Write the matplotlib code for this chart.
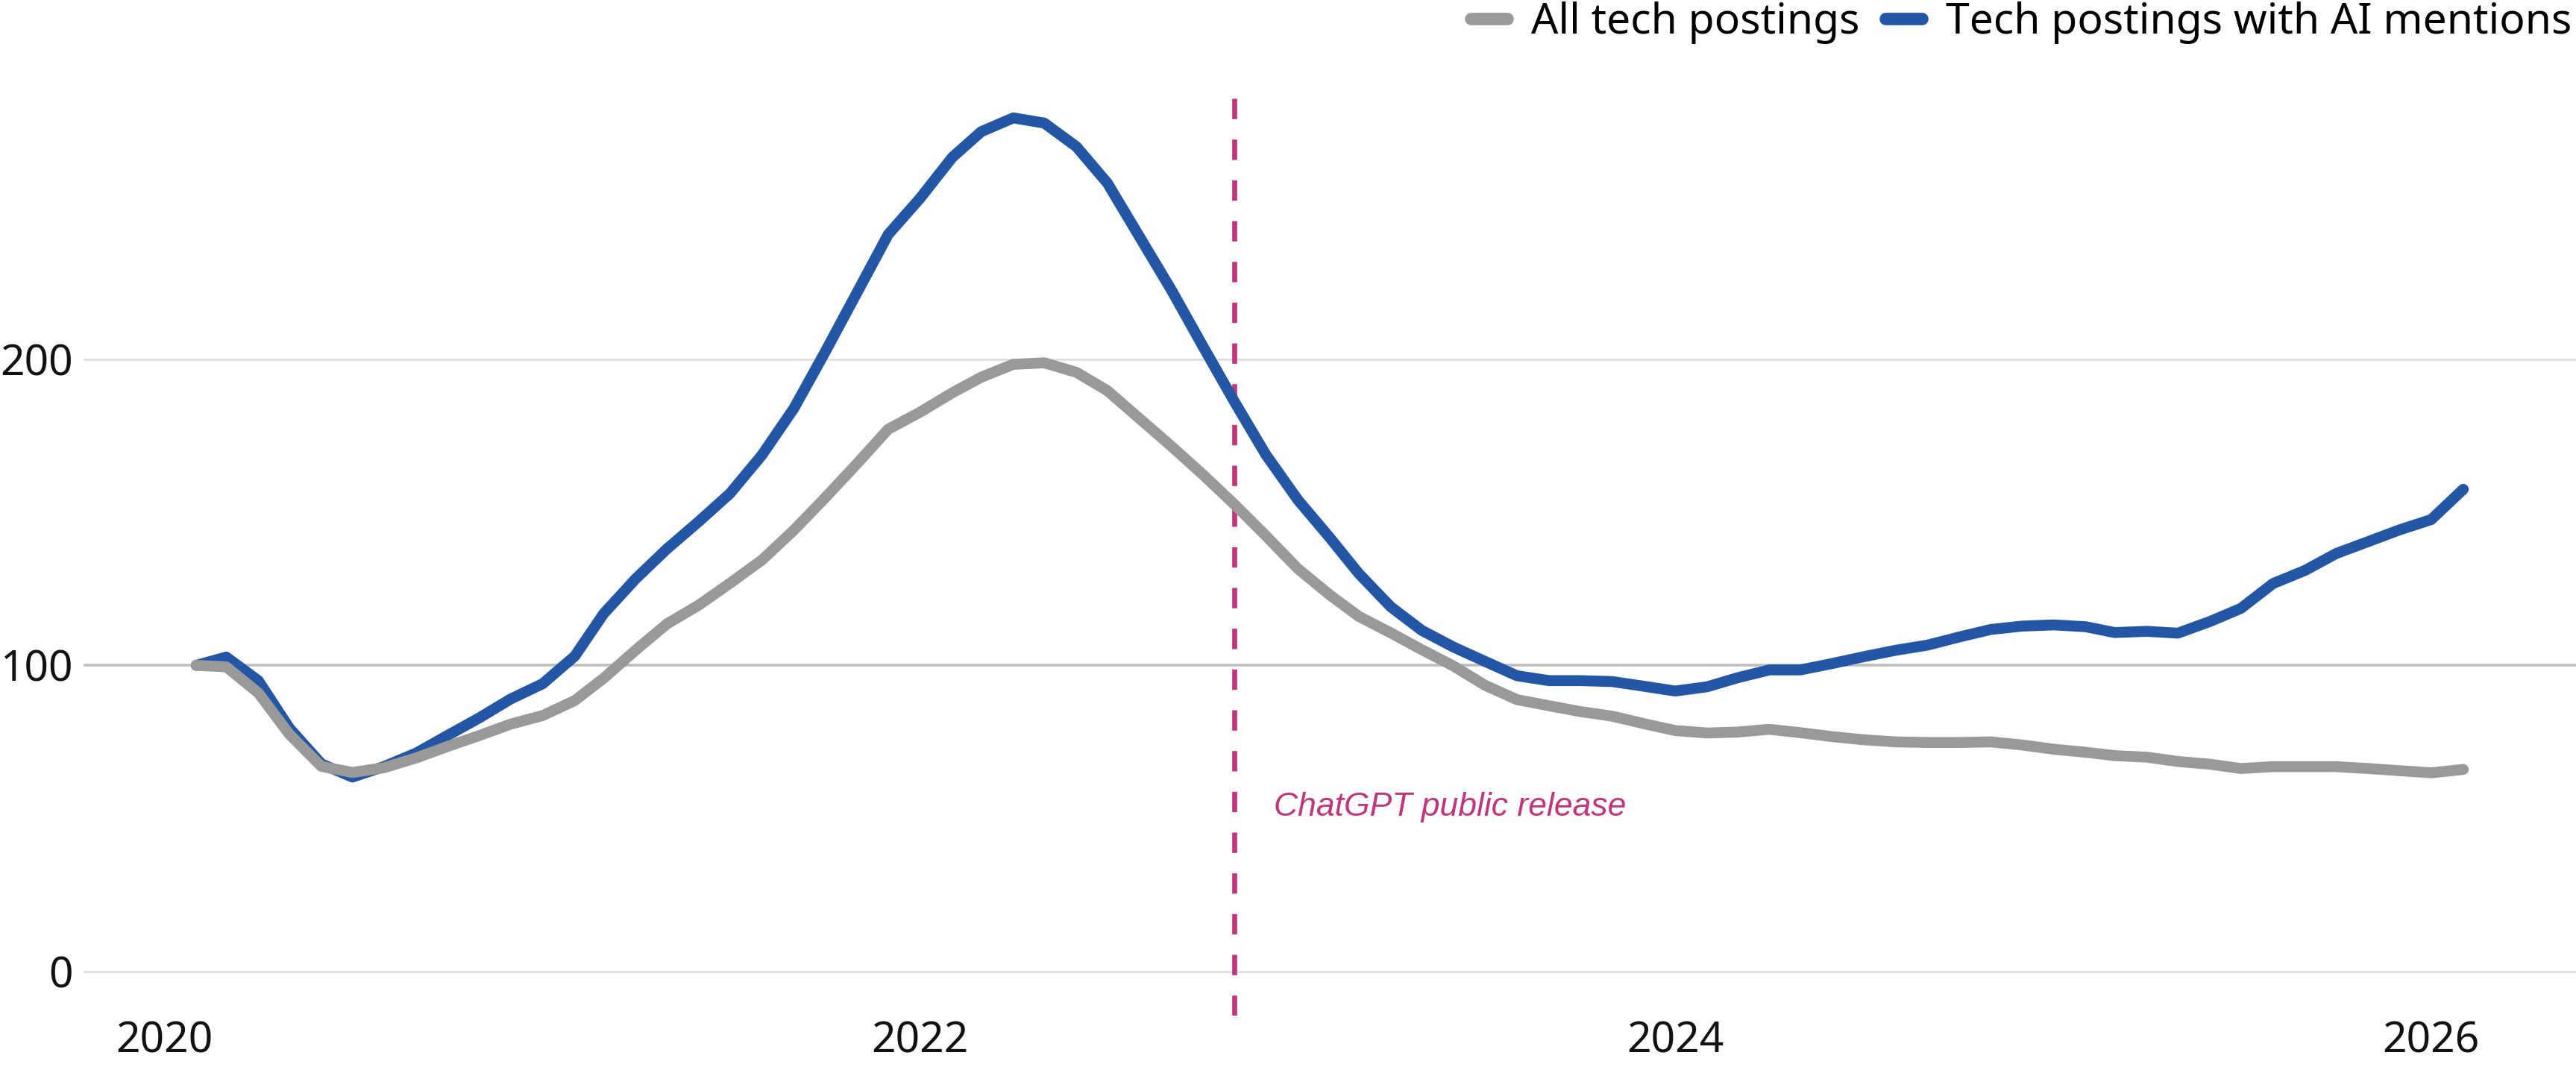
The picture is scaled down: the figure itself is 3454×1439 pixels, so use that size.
import matplotlib
matplotlib.use("Agg")
import matplotlib.pyplot as plt
import pandas as pd
from matplotlib.lines import Line2D

plt.rcParams["font.family"] = ["Noto Sans", "DejaVu Sans"]

# Monthly index of tech job postings (Feb 2020 = 100)
months = pd.date_range("2020-02-01", periods=73, freq="MS")

all_tech = [
    100, 99.5, 91, 77.5, 67, 65, 66.6, 69.8, 73.5, 77.1, 80.8, 83.6,
    88.5, 95.8, 105, 113.5, 119.7, 126.8, 134.4, 144.2, 154.7, 165.9, 177.1, 182.7,
    189, 194.1, 198.3, 198.8, 195.7, 189.7, 180.6, 171.5, 162.4, 152.5, 142.4, 131.6,
    123, 116, 110.6, 105.1, 99.7, 93.5, 88.8, 86.8, 84.9, 83.4, 81, 78.7,
    77.9, 78.2, 79.1, 78, 76.7, 75.7, 75, 74.8, 74.8, 75, 74, 72.6,
    71.6, 70.5, 70, 68.6, 67.7, 66.3, 66.9, 66.9, 66.9, 66.3, 65.6, 64.9,
    66,
]

ai_tech = [
    100, 102.7, 95, 79.5, 67.8, 63.5, 67, 71.4, 77.1, 82.9, 89, 94,
    103, 116.9, 128.3, 138, 147, 156.1, 168.7, 184, 202.3, 221.8, 240.7, 252.6,
    265.9, 274.3, 278.8, 277.1, 269.4, 257.5, 240, 222.5, 204.4, 186, 168.9, 154.1,
    141.7, 130, 119.1, 111.4, 105.9, 101.3, 96.6, 95, 95, 94.7, 93.2, 91.6,
    93, 95.9, 98.5, 98.5, 100.6, 102.8, 104.9, 106.6, 109.2, 111.7, 112.8, 113.2,
    112.6, 110.7, 111.1, 110.5, 114.3, 118.6, 126.7, 131, 136.5, 140.4, 144.2, 147.6,
    157.5,
]

series_labels = ["All tech postings", "Tech postings with AI mentions"]
y_ticks = [0, 100, 200]
x_tick_years = [2020, 2022, 2024, 2026]
release_date = pd.Timestamp("2022-11-01")
release_label = "ChatGPT public release"

GRAY = "#999999"
BLUE = "#2356a5"
MAGENTA = "#c2357e"

W, H = 3454, 1439
fig = plt.figure(figsize=(W / 100, H / 100), dpi=100)
left_px, top_px, bottom_px = 112, 108, 1362
ax = fig.add_axes([left_px / W, 1 - bottom_px / H, 1 - left_px / W, (bottom_px - top_px) / H])

# reference gridlines, the 100 baseline a bit stronger
for v in y_ticks:
    if v == 100:
        ax.axhline(v, color="#bdbdbd", lw=2.6, zorder=1)
    else:
        ax.axhline(v, color="#dedede", lw=2.0, zorder=1)

ax.plot(months, ai_tech, color=BLUE, lw=10.5, solid_capstyle="round",
        solid_joinstyle="round", zorder=3)
ax.plot(months, all_tech, color=GRAY, lw=10.5, solid_capstyle="round",
        solid_joinstyle="round", zorder=4)

ax.axvline(release_date, color=MAGENTA, lw=4.8, dashes=(4.1, 4.1), zorder=2)
ax.annotate(release_label, xy=(release_date, 53.6), xytext=(38, 0),
            textcoords="offset points", ha="left", va="center",
            fontsize=32, style="italic", color=MAGENTA,
            family=["Liberation Sans", "DejaVu Sans"])

ax.set_ylim(-14.4, 291)
ax.set_xlim(pd.Timestamp("2020-01-01") - pd.Timedelta(days=78),
            pd.Timestamp("2026-01-01") + pd.Timedelta(days=140))
ax.set_yticks(y_ticks)
ax.set_yticklabels([str(v) for v in y_ticks])
ax.set_xticks([pd.Timestamp(f"{y}-01-01") for y in x_tick_years])
ax.set_xticklabels([str(y) for y in x_tick_years])
ax.tick_params(axis="both", length=0, labelsize=41, colors="#111111")
ax.tick_params(axis="y", pad=10)
ax.tick_params(axis="x", pad=5)
for s in ax.spines.values():
    s.set_visible(False)
ax.set_facecolor("none")

handles = [
    Line2D([], [], color=GRAY, lw=12, solid_capstyle="round"),
    Line2D([], [], color=BLUE, lw=12, solid_capstyle="round"),
]
fig.legend(handles, series_labels, loc="upper right",
           bbox_to_anchor=(3448 / W, 1.0 - 2 / H), ncol=2, frameon=False,
           fontsize=41, borderaxespad=0, borderpad=0.0,
           handlelength=0.86, handletextpad=0.56, columnspacing=0.6)

fig.savefig("out.png", dpi=100, facecolor="white")
